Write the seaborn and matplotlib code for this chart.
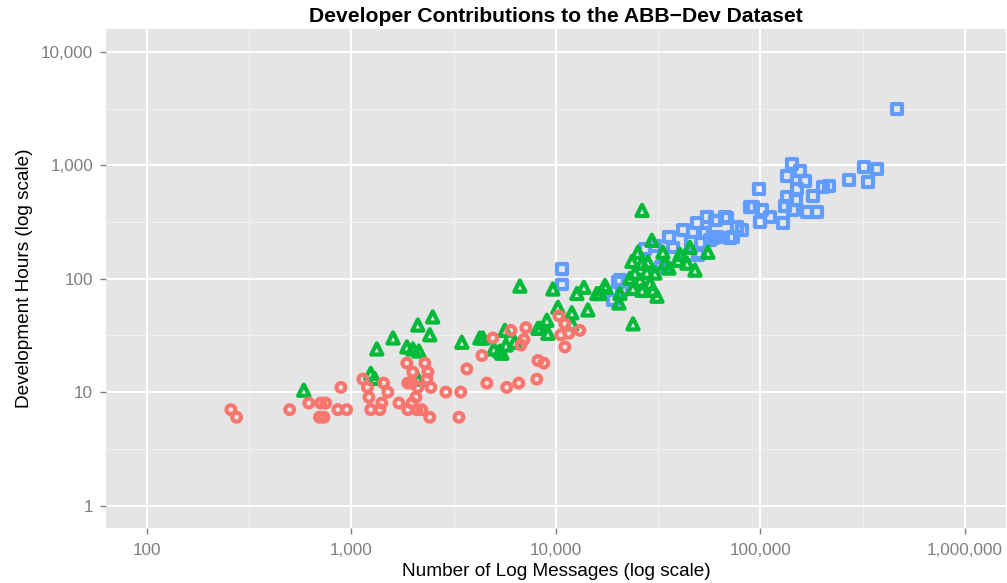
import matplotlib
matplotlib.use("Agg")
import matplotlib.pyplot as plt
import matplotlib.ticker as mticker
import pandas as pd
import seaborn as sns

# values (log messages, development hours)
low_messages = [258, 275, 500, 620, 709, 750, 700, 735, 890, 860,
                950, 1140, 1200, 1220, 1245, 1380, 1410, 1440, 1510, 1710,
                1870, 1890, 1980, 2000, 1980, 2070, 2115, 1890, 2090, 2210,
                2290, 2370, 2340, 2450, 2420, 2900, 3430, 3360, 3670, 4350,
                4600, 4920, 5750, 6030, 6590, 6750, 6980, 7140, 8070, 8170,
                8730, 10350, 10570, 11070, 11070, 11580, 13100]
low_hours = [7, 6, 7, 8, 8, 8, 6, 6, 11, 7,
             7, 13, 11, 9, 7, 7, 8, 12, 10, 8,
             18, 12, 12, 15, 8, 9, 11, 7, 7, 7,
             18, 15, 13, 11, 6, 10, 10, 6, 16, 21,
             12, 30, 11, 35, 12, 26, 29, 37, 13, 19,
             18, 47, 32, 25, 40, 33, 35]

mid_messages = [586, 1245, 1300, 1333, 1600, 1870, 2000, 2140, 2115, 2420,
                2500, 3470, 4250, 4400, 4975, 5445, 5635, 5700, 6300, 6670,
                8165, 9035, 9140, 8350, 9670, 10230, 11970, 11970, 12670, 13710,
                15850, 16400, 17540, 14330, 20330, 20560, 23820, 17370, 26370, 25190,
                23550, 26370, 28200, 29450, 33350, 34120, 35720, 39540, 40400, 43720,
                47860, 55340, 30480, 27860, 24330, 23010, 25760, 28840, 26370, 29790,
                31190, 23820, 5320, 2115, 45190]
mid_hours = [10.4, 14.6, 13.2, 24, 30, 25, 24, 23, 39, 32,
             46, 27.5, 30, 30, 24, 22, 35, 26, 27.5, 86,
             36.5, 43, 33, 36.5, 81, 56, 50, 40, 74, 84,
             74, 74, 84, 53, 61, 74, 40, 87, 400, 171,
             142, 137, 140, 218, 171, 137, 124, 145, 164, 137,
             119, 171, 112, 114, 112, 101, 97, 91, 79, 79,
             70, 82, 23, 13, 189]

high_messages = [10690, 10690, 20560, 19010, 20100, 21040, 27230, 30480, 32600, 34900,
                 35720, 37350, 41790, 45190, 49430, 48950, 53580, 54750, 56620, 60560,
                 61250, 66990, 73400, 76790, 81260, 88870, 91830, 98400, 99500, 101700,
                 111200, 128800, 131800, 134900, 134900, 142600, 144200, 149200, 150800, 156000,
                 165200, 168800, 180700, 188900, 202400, 216400, 271000, 320900, 371500, 335600,
                 464500, 45710, 50580, 58600, 70950, 52360, 59980, 68550]
high_hours = [121, 89, 97, 64.5, 93, 79, 182, 193, 126, 124,
              232, 189, 267, 161, 161, 308, 252, 348, 218, 327,
              232, 348, 232, 284, 267, 427, 427, 615, 315, 401,
              348, 308, 435, 523, 800, 1020, 401, 492, 615, 887,
              724, 385, 534, 385, 641, 654, 739, 962, 924, 709,
              3126, 210, 168, 227, 227, 252, 327, 341]

x_ticks = [100, 1000, 10000, 100000, 1000000]
y_ticks = [1, 10, 100, 1000, 10000]

df = pd.concat([
    pd.DataFrame({"messages": high_messages, "hours": high_hours, "group": "high"}),
    pd.DataFrame({"messages": mid_messages, "hours": mid_hours, "group": "mid"}),
    pd.DataFrame({"messages": low_messages, "hours": low_hours, "group": "low"}),
])

styles = {
    "high": ("#619CFF", "s", 48),
    "mid": ("#00BA38", "^", 64),
    "low": ("#F8766D", "o", 40),
}

sns.set_style("darkgrid", {"axes.facecolor": "#E5E5E5", "grid.color": "white"})
plt.rcParams["font.family"] = ["Liberation Sans", "DejaVu Sans"]

fig, ax = plt.subplots(figsize=(10.07, 5.83), dpi=100)
fig.subplots_adjust(left=0.105, right=0.999, bottom=0.094, top=0.95)

for name, grp in df.groupby("group", sort=False):
    color, marker, size = styles[name]
    sns.scatterplot(data=grp, x="messages", y="hours", ax=ax, marker=marker,
                    s=size, color=color, facecolor="none", edgecolor=color,
                    linewidth=3.0, legend=False, zorder=3)

ax.set_xscale("log")
ax.set_yscale("log")
ax.set_xlim(10 ** 1.8, 10 ** 6.2)
ax.set_ylim(10 ** -0.2, 10 ** 4.2)

ax.xaxis.set_major_locator(mticker.FixedLocator(x_ticks))
ax.yaxis.set_major_locator(mticker.FixedLocator(y_ticks))
ax.xaxis.set_minor_locator(mticker.FixedLocator([10 ** (k + 0.5) for k in range(2, 6)]))
ax.yaxis.set_minor_locator(mticker.FixedLocator([10 ** (k + 0.5) for k in range(0, 4)]))
fmt = mticker.FuncFormatter(lambda v, p: f"{v:,.0f}")
ax.xaxis.set_major_formatter(fmt)
ax.yaxis.set_major_formatter(fmt)
ax.xaxis.set_minor_formatter(mticker.NullFormatter())
ax.yaxis.set_minor_formatter(mticker.NullFormatter())

ax.grid(which="major", color="white", linewidth=1.4)
ax.grid(which="minor", color="#F2F2F2", linewidth=0.7)
ax.set_axisbelow(True)
for sp in ax.spines.values():
    sp.set_visible(False)

ax.tick_params(axis="both", which="major", length=4, width=1, color="#7F7F7F",
               labelcolor="#7F7F7F", labelsize=12.3, bottom=True, left=True)
ax.tick_params(axis="x", which="major", pad=7)
ax.tick_params(axis="y", which="major", pad=5)
ax.tick_params(axis="both", which="minor", length=0)

ax.set_title("Developer Contributions to the ABB\u2212Dev Dataset",
             fontsize=15.2, fontweight="bold", color="black", pad=5)
ax.set_xlabel("Number of Log Messages (log scale)", fontsize=13.7,
              color="black", labelpad=3)
ax.set_ylabel("Development Hours (log scale)", fontsize=13.7,
              color="black", labelpad=6)

fig.savefig("out.png", dpi=100)
